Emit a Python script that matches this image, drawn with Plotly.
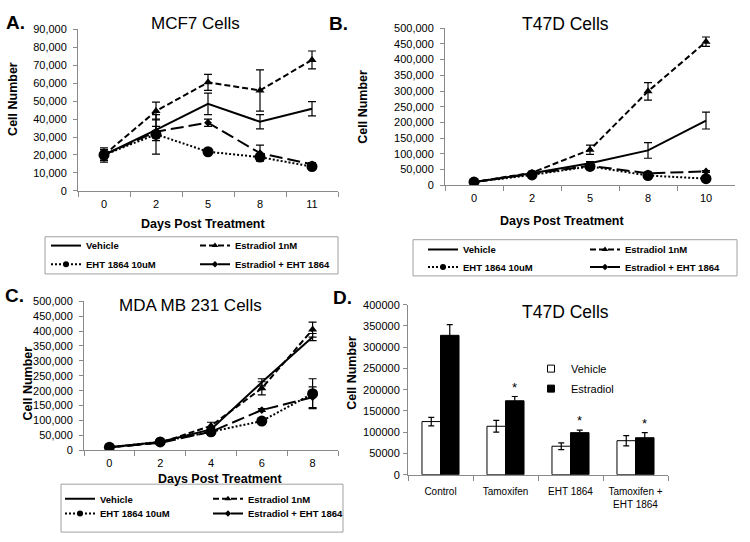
import plotly.graph_objects as go

W, H = 750, 542
FONT = "Liberation Sans, Arial, sans-serif"


def px(x):
    return x / W


def py(y):
    return 1 - y / H


# ---------------- data ----------------
series_names = ["Vehicle", "Estradiol 1nM", "EHT 1864 10uM", "Estradiol + EHT 1864"]

# Panel A: MCF7
a_days = ["0", "2", "5", "8", "11"]
a_vehicle = [20000, 34000, 48500, 38500, 45800]
a_vehicle_err = [4000, 6000, 6000, 4000, 4000]
a_estradiol = [20000, 44500, 60500, 56000, 73000]
a_estradiol_err = [3000, 5000, 4500, 11500, 5000]
a_eht = [20000, 31500, 21800, 18800, 13500]
a_eht_err = [2000, 11000, 1000, 1500, 1000]
a_combo = [20000, 33000, 38000, 21000, 14800]
a_combo_err = [2000, 3000, 2000, 4500, 1000]

# Panel B: T47D
b_days = ["0", "2", "5", "8", "10"]
b_vehicle = [10000, 38000, 70000, 111000, 206000]
b_vehicle_err = [3000, 4000, 5000, 25000, 27000]
b_estradiol = [10000, 40000, 113000, 299000, 457000]
b_estradiol_err = [3000, 4000, 15000, 28000, 15000]
b_eht = [10000, 33000, 60000, 31000, 21000]
b_eht_err = [2000, 3000, 3000, 3000, 3000]
b_combo = [10000, 37000, 62000, 38000, 44000]
b_combo_err = [2000, 3000, 3000, 3000, 3000]

# Panel C: MDA MB 231
c_days = ["0", "2", "4", "6", "8"]
c_vehicle = [10000, 28000, 70000, 228000, 380000]
c_vehicle_err = [2000, 3000, 8000, 12000, 12000]
c_estradiol = [10000, 25000, 82000, 208000, 405000]
c_estradiol_err = [2000, 3000, 12000, 22000, 25000]
c_eht = [10000, 28000, 62000, 98000, 190000]
c_eht_err = [2000, 3000, 12000, 4000, 50000]
c_combo = [10000, 25000, 62000, 135000, 178000]
c_combo_err = [2000, 3000, 5000, 5000, 35000]

# Panel D: T47D bar chart
d_groups = ["Control", "Tamoxifen", "EHT 1864", "Tamoxifen +<br>EHT 1864"]
d_vehicle = [125000, 114000, 67000, 80000]
d_vehicle_err = [10000, 14000, 8000, 12000]
d_estradiol = [328000, 174000, 99000, 87000]
d_estradiol_err = [25000, 10000, 6000, 12000]
d_significant = [False, True, True, True]

# ---------------- styles ----------------
STYLES = {
    "Vehicle": dict(dash="solid", symbol="circle", size=0, lsize=0),
    "Estradiol 1nM": dict(dash="6px,3px", symbol="triangle-up", size=8, lsize=6),
    "EHT 1864 10uM": dict(dash="2px,2px", symbol="circle", size=11, lsize=6),
    "Estradiol + EHT 1864": dict(dash="13px,5px", symbol="diamond", size=6, lsize=5),
}

fig = go.Figure()

panels = [
    ("x", "y", a_days, [a_vehicle, a_estradiol, a_eht, a_combo],
     [a_vehicle_err, a_estradiol_err, a_eht_err, a_combo_err], ("legend", "legend2")),
    ("x2", "y2", b_days, [b_vehicle, b_estradiol, b_eht, b_combo],
     [b_vehicle_err, b_estradiol_err, b_eht_err, b_combo_err], ("legend3", "legend4")),
    ("x3", "y3", c_days, [c_vehicle, c_estradiol, c_eht, c_combo],
     [c_vehicle_err, c_estradiol_err, c_eht_err, c_combo_err], ("legend5", "legend6")),
]

for xa, ya, days, vals, errs, legs in panels:
    for i, name in enumerate(series_names):
        st = STYLES[name]
        mode = "lines" if name == "Vehicle" else "lines+markers"
        line = dict(color="black", width=2, dash=st["dash"])
        fig.add_trace(go.Scatter(
            x=days, y=vals[i], name=name, xaxis=xa, yaxis=ya, mode=mode, line=line,
            marker=dict(symbol=st["symbol"], size=st["size"], color="black"),
            error_y=dict(type="data", array=errs[i], color="black", thickness=1.2, width=4),
            showlegend=False,
        ))
        # legend entry with smaller symbol (as in the original legend)
        fig.add_trace(go.Scatter(
            x=[None], y=[None], name=name, xaxis=xa, yaxis=ya, mode=mode, line=line,
            marker=dict(symbol=st["symbol"], size=st["lsize"], color="black"),
            legend=legs[0] if i < 2 else legs[1], showlegend=True, hoverinfo="skip",
        ))

BARGAP = 0.43
bar_styles = {
    "Vehicle": dict(color="white", line=dict(color="black", width=1)),
    "Estradiol": dict(color="black", line=dict(color="black", width=1)),
}
for name, vals, errs in [("Vehicle", d_vehicle, d_vehicle_err),
                         ("Estradiol", d_estradiol, d_estradiol_err)]:
    fig.add_trace(go.Bar(
        x=d_groups, y=vals, name=name, xaxis="x4", yaxis="y4",
        marker=bar_styles[name],
        error_y=dict(type="data", array=errs, color="black", thickness=1.2, width=3),
        showlegend=False,
    ))
    # small square legend key, as in the original
    fig.add_trace(go.Scatter(
        x=[None], y=[None], name=name, xaxis="x4", yaxis="y4", mode="markers",
        marker=dict(symbol="square", size=7, color=bar_styles[name]["color"],
                    line=dict(color="black", width=1)),
        legend="legend7", legendgroup=name, showlegend=True, hoverinfo="skip",
    ))

# ---------------- axes ----------------
AXIS_GRAY = "#8a8a8a"
tickfont = dict(family=FONT, size=11, color="black")


def xax(dom, yanchor, ncat, size=11, standoff=3):
    return dict(domain=dom, anchor=yanchor, type="category", tickson="boundaries",
                range=[-0.5, ncat - 0.5],
                showline=True, linecolor=AXIS_GRAY, linewidth=1, ticks="outside",
                tickcolor=AXIS_GRAY, ticklen=5, showgrid=False, zeroline=False,
                ticklabelstandoff=standoff,
                tickfont=dict(family=FONT, size=size, color="black"), fixedrange=True)


def yax(dom, xanchor, rng, dtick, fmt, standoff=4):
    return dict(domain=dom, anchor=xanchor, range=rng, dtick=dtick, tickformat=fmt,
                showline=True, linecolor=AXIS_GRAY, linewidth=1, ticks="outside",
                tickcolor=AXIS_GRAY, ticklen=4, showgrid=False, zeroline=False,
                ticklabelstandoff=standoff,
                tickfont=tickfont, fixedrange=True)


fig.update_layout(
    xaxis=xax([px(78), px(338)], "y", len(a_days)),
    yaxis=yax([py(189), py(24)], "x", [0, 90000], 10000, ","),
    xaxis2=xax([px(445), px(735)], "y2", len(b_days)),
    yaxis2=yax([py(183.3), py(22.7)], "x2", [0, 500000], 50000, ","),
    xaxis3=xax([px(84), px(338)], "y3", len(c_days)),
    yaxis3=yax([py(454.3), py(302)], "x3", [0, 500000], 50000, ","),
    xaxis4=xax([px(408), px(668)], "y4", len(d_groups), size=10, standoff=7),
    yaxis4=yax([py(479.3), py(305.5)], "x4", [0, 400000], 50000, "d", standoff=1),
    barmode="group", bargap=BARGAP, bargroupgap=0,
)

# ---------------- legends ----------------
legfont = dict(family=FONT, size=9.5, color="black", weight="bold")


def hleg(x, y, ew):
    return dict(orientation="h", x=px(x), y=py(y), xanchor="left", yanchor="middle",
                entrywidth=ew, entrywidthmode="pixels", font=legfont,
                bgcolor="rgba(0,0,0,0)", borderwidth=0, itemclick=False, itemdoubleclick=False)


fig.update_layout(
    legend=hleg(46, 245, 104),
    legend2=hleg(46, 264, 104),
    legend3=hleg(423, 249, 117),
    legend4=hleg(423, 267, 117),
    legend5=hleg(60, 504, 103),
    legend6=hleg(60, 519, 103),
    legend7=dict(orientation="v", x=px(531), y=py(356), xanchor="left", yanchor="top",
                 font=dict(family=FONT, size=11, color="black"), bgcolor="rgba(0,0,0,0)",
                 tracegroupgap=1, itemclick=False, itemdoubleclick=False),
)

# legend boxes
for (x0, y0, x1, y1) in [(45, 236, 338, 274), (413, 239, 737, 276), (61, 489, 343, 538)]:
    fig.add_shape(type="rect", xref="paper", yref="paper",
                  x0=px(x0), x1=px(x1), y0=py(y1), y1=py(y0),
                  line=dict(color="#a0a0a0", width=1), fillcolor="rgba(0,0,0,0)")

# ---------------- text ----------------
ann = []


def text(x, y, s, size, bold=False, angle=0):
    ann.append(dict(x=px(x), y=py(y), xref="paper", yref="paper", text=s, showarrow=False,
                    xanchor="center", yanchor="middle", textangle=angle,
                    font=dict(family=FONT, size=size, color="black",
                              weight="bold" if bold else "normal")))


# panel letters
text(15, 17, "A.", 19, True)
text(338, 18, "B.", 19, True)
text(14, 296, "C.", 19, True)
text(342, 298, "D.", 19, True)
# titles
text(195, 18, "MCF7 Cells", 17)
text(565, 18, "T47D Cells", 17.5)
text(190, 306, "MDA MB 231 Cells", 17)
text(565, 313, "T47D Cells", 17.5)
# axis titles
text(13, 95, "Cell Number", 12.5, True, -90)
text(363, 103, "Cell Number", 12.5, True, -90)
text(28, 386, "Cell Number", 12.5, True, -90)
text(352, 375, "Cell Number", 12.5, True, -90)
text(203, 223, "Days Post Treatment", 12.5, True)
text(562, 220, "Days Post Treatment", 12.5, True)
text(220, 484, "Days Post Treatment", 12.5, True)

# significance asterisks above estradiol bars
offset = (1 - BARGAP) / 4
for i, sig in enumerate(d_significant):
    if sig:
        ann.append(dict(x=i + offset, y=d_estradiol[i] + d_estradiol_err[i], xref="x4", yref="y4",
                        text="*", showarrow=False, yanchor="bottom", yshift=0,
                        font=dict(family=FONT, size=13, color="black")))

fig.update_layout(
    annotations=ann,
    width=W, height=H,
    margin=dict(l=0, r=0, t=0, b=0),
    paper_bgcolor="white", plot_bgcolor="white",
    font=dict(family=FONT, color="black"),
)

fig.write_html(
    "out.html",
    config={"displayModeBar": False},
    post_script="document.body.style.margin='0';document.body.style.overflow='hidden';",
)
